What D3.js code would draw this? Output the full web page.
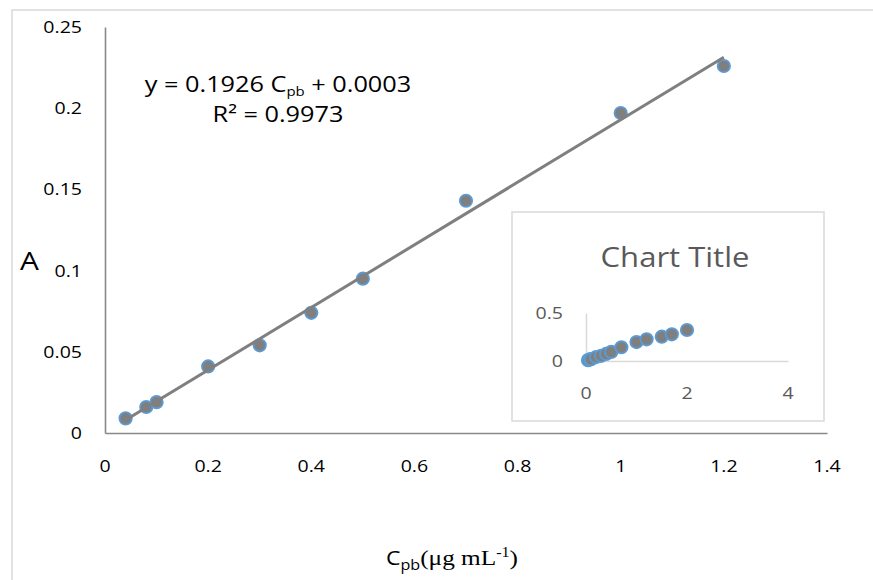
<!DOCTYPE html>
<html>
<head>
<meta charset="utf-8">
<script src="https://cdn.jsdelivr.net/npm/d3@7/dist/d3.min.js"></script>
<style>
  html, body { margin: 0; padding: 0; background: #fff; }
  svg { display: block; }
</style>
</head>
<body>
<svg id="chart" width="873" height="580"></svg>
<script>
// Calibration data: Pb concentration (µg/mL) vs absorbance
const concentrations = [0.04, 0.08, 0.1, 0.2, 0.3, 0.4, 0.5, 0.7, 1.0, 1.2];
const absorbances    = [0.009, 0.016, 0.019, 0.041, 0.054, 0.074, 0.095, 0.143, 0.197, 0.226];

// Linear fit reported on the chart
const slope = 0.1926;
const intercept = 0.0003;
const rSquared = 0.9973;

const xTickValues = [0, 0.2, 0.4, 0.6, 0.8, 1, 1.2, 1.4];
const yTickValues = [0, 0.05, 0.1, 0.15, 0.2, 0.25];

// Small embedded chart with the extended concentration range
const insetConcentrations = [0.04, 0.08, 0.1, 0.2, 0.3, 0.4, 0.5, 0.7, 1.0, 1.2, 1.5, 1.7, 2.0];
const insetAbsorbances    = [0.009, 0.016, 0.019, 0.041, 0.054, 0.074, 0.095, 0.143, 0.197, 0.226, 0.253, 0.278, 0.323];
const insetXTicks = [0, 2, 4];
const insetYTicks = [0, 0.5];
const insetTitle = "Chart Title";

const SX = 1.15;            // horizontal text stretch
const FONT = "'Open Sans', 'Noto Sans', sans-serif";
const SERIF = "'Liberation Serif', 'DejaVu Serif', serif";

const svg = d3.select("#chart");

// outer chart border
svg.append("rect")
  .attr("x", 12).attr("y", 10)
  .attr("width", 900).attr("height", 600)
  .attr("fill", "#fff")
  .attr("stroke", "#d9d9d9").attr("stroke-width", 1.5);

function placeText(sel, x, y) {
  return sel.attr("transform", `translate(${x},${y}) scale(${SX},1)`);
}

// main scales
const x = d3.scaleLinear().domain([0, 1.4]).range([105, 827]);
const y = d3.scaleLinear().domain([0, 0.25]).range([433, 27]);

// axes (lines only, labels drawn with stretch)
const xAxis = d3.axisBottom(x).tickValues(xTickValues).tickSize(0).tickFormat("");
const yAxis = d3.axisLeft(y).tickValues(yTickValues).tickSize(0).tickFormat("");
svg.append("g").attr("transform", `translate(0,${y(0)})`).call(xAxis)
  .select(".domain").attr("stroke", "#898989").attr("stroke-width", 1.6);
svg.append("g").attr("transform", `translate(${x(0)},0)`).call(yAxis)
  .select(".domain").attr("stroke", "#898989").attr("stroke-width", 1.6);

const fmt = d3.format("~g");

svg.append("g").selectAll("text").data(yTickValues).join("text")
  .each(function (d) { placeText(d3.select(this), 82, y(d) + 6); })
  .attr("text-anchor", "end")
  .attr("font-family", FONT).attr("font-size", 17).attr("fill", "#000")
  .text(d => fmt(d));

svg.append("g").selectAll("text").data(xTickValues).join("text")
  .each(function (d) { placeText(d3.select(this), x(d), 472); })
  .attr("text-anchor", "middle")
  .attr("font-family", FONT).attr("font-size", 17).attr("fill", "#000")
  .text(d => fmt(d));

// data points
const pts = concentrations.map((c, i) => ({ c, a: absorbances[i] }));
svg.append("g").selectAll("circle").data(pts).join("circle")
  .attr("cx", d => x(d.c)).attr("cy", d => y(d.a)).attr("r", 6.2)
  .attr("fill", "#7f7f7f").attr("stroke", "#5b9bd5").attr("stroke-width", 1.8);

// trendline over the measured range
const xMin = d3.min(concentrations), xMax = d3.max(concentrations);
svg.append("line")
  .attr("x1", x(xMin)).attr("y1", y(slope * xMin + intercept))
  .attr("x2", x(xMax)).attr("y2", y(slope * xMax + intercept))
  .attr("stroke", "#7f7f7f").attr("stroke-width", 3);

// equation label
const eq = svg.append("text")
  .attr("text-anchor", "middle")
  .attr("font-family", FONT).attr("font-size", 22).attr("fill", "#000");
placeText(eq, 278, 92);
eq.append("tspan").text(`y = ${slope} C`);
eq.append("tspan").attr("font-size", 13).attr("dy", 4).text("pb");
eq.append("tspan").attr("dy", -4).text(` + ${intercept.toFixed(4)}`);

const r2 = svg.append("text")
  .attr("text-anchor", "middle")
  .attr("font-family", FONT).attr("font-size", 22).attr("fill", "#000")
  .text(`R² = ${rSquared}`);
placeText(r2, 278, 122);

// axis titles
const yTitle = svg.append("text")
  .attr("font-family", FONT).attr("font-size", 26).attr("fill", "#000")
  .text("A");
placeText(yTitle, 20, 270);

const xTitle = svg.append("text")
  .attr("text-anchor", "middle")
  .attr("font-family", FONT).attr("font-size", 20).attr("fill", "#000");
placeText(xTitle, 452, 565);
xTitle.append("tspan").text("C");
xTitle.append("tspan").attr("font-size", 14).attr("dy", 5).text("pb");
xTitle.append("tspan").attr("dy", -5).attr("font-family", SERIF).attr("font-size", 22).text("(μg mL");
xTitle.append("tspan").attr("dy", -8).attr("font-family", SERIF).attr("font-size", 14).text("-1");
xTitle.append("tspan").attr("dy", 8).attr("font-family", SERIF).attr("font-size", 22).text(")");

// inset chart
const inset = svg.append("g");
inset.append("rect")
  .attr("x", 512).attr("y", 212).attr("width", 312).attr("height", 209)
  .attr("fill", "#fff").attr("stroke", "#d9d9d9").attr("stroke-width", 1.5);

const ix = d3.scaleLinear().domain([0, 4]).range([586, 788]);
const iy = d3.scaleLinear().domain([0, 0.5]).range([361, 313]);

inset.append("g").attr("transform", `translate(0,${iy(0)})`)
  .call(d3.axisBottom(ix).tickValues(insetXTicks).tickSize(0).tickFormat(""))
  .select(".domain").attr("stroke", "#d9d9d9").attr("stroke-width", 1.5);
inset.append("g").attr("transform", `translate(${ix(0)},0)`)
  .call(d3.axisLeft(iy).tickValues(insetYTicks).tickSize(0).tickFormat(""))
  .select(".domain").attr("stroke", "#d9d9d9").attr("stroke-width", 1.5);

inset.append("g").selectAll("text").data(insetYTicks).join("text")
  .each(function (d) { placeText(d3.select(this), 563, iy(d) + 6); })
  .attr("text-anchor", "end")
  .attr("font-family", FONT).attr("font-size", 17).attr("fill", "#595959")
  .text(d => fmt(d));
inset.append("g").selectAll("text").data(insetXTicks).join("text")
  .each(function (d) { placeText(d3.select(this), ix(d), 399); })
  .attr("text-anchor", "middle")
  .attr("font-family", FONT).attr("font-size", 17).attr("fill", "#595959")
  .text(d => fmt(d));

const ipts = insetConcentrations.map((c, i) => ({ c, a: insetAbsorbances[i] }));
inset.append("g").selectAll("circle").data(ipts).join("circle")
  .attr("cx", d => ix(d.c)).attr("cy", d => iy(d.a)).attr("r", 6.2)
  .attr("fill", "#7f7f7f").attr("stroke", "#5b9bd5").attr("stroke-width", 1.8);

const it = inset.append("text")
  .attr("text-anchor", "middle")
  .attr("font-family", FONT).attr("font-size", 27).attr("fill", "#595959")
  .text(insetTitle);
placeText(it, 675, 267);
</script>
</body>
</html>
